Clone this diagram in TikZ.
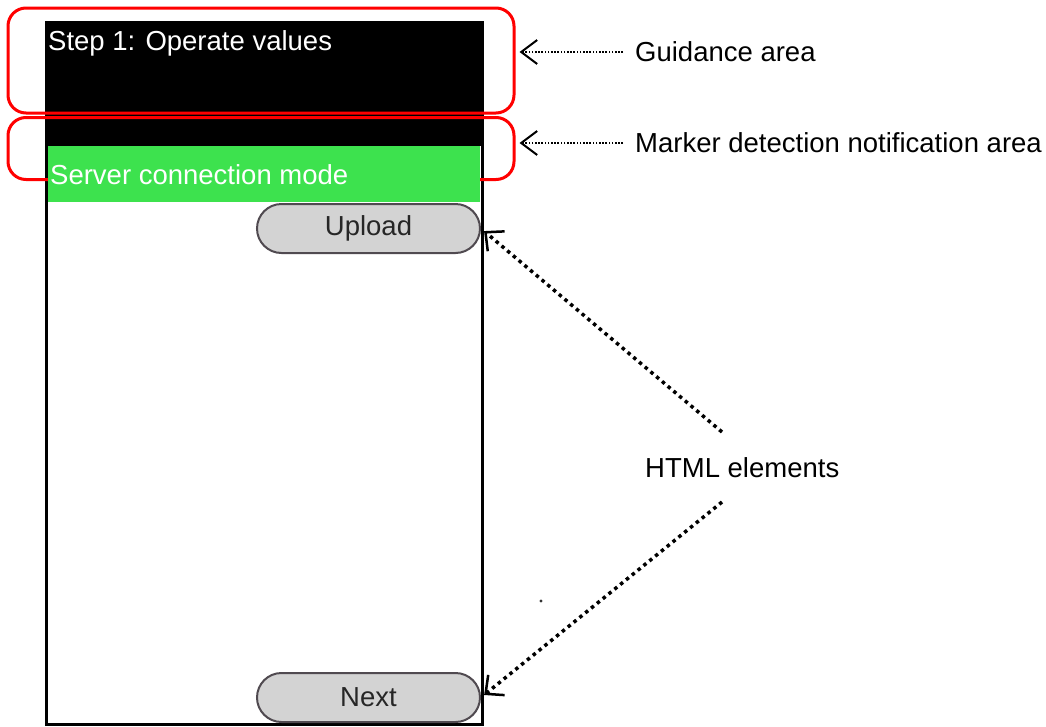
\documentclass[tikz,border=0pt]{standalone}
\usepackage{fontspec}
\setmainfont{Liberation Sans}
\usetikzlibrary{arrows.meta}
\definecolor{scrgreen}{RGB}{61,226,78}
\definecolor{btngray}{RGB}{211,211,211}
\definecolor{btnline}{RGB}{80,74,80}
\tikzset{
  lbl/.style={font=\fontsize{27.5}{33}\selectfont, inner sep=0pt, anchor=west},
  redbox/.style={draw=red, line width=3pt, rounded corners=18pt, inner sep=0pt},
  pill/.style={draw=btnline, fill=btngray, line width=2pt, rounded rectangle,
    minimum width=223pt, minimum height=49pt, inner sep=0pt,
    font=\fontsize{27.5}{33}\selectfont, text=black!85},
  thinarrow/.style={line width=1.6pt, dash pattern=on 1.6pt off 1.6pt,
    -{Straight Barb[length=16pt,width=24pt,line width=2pt]}},
  thickarrow/.style={line width=3.5pt, dash pattern=on 3.5pt off 4pt,
    -{Straight Barb[length=14pt,width=26pt,line width=2.5pt]}},
}
\usetikzlibrary{shapes.misc}
\begin{document}
\begin{tikzpicture}[x=1pt,y=-1pt]
\useasboundingbox (0,0) rectangle (1046,726);
\fill[white] (0,0) rectangle (1046,726);
% phone frame
\node[draw=black, line width=3pt, fill=white, inner sep=0pt, minimum width=436pt, minimum height=702pt] (frame) at (264,373) {};
\fill[black] (46,22) rectangle (482,146);
% red areas
\node[redbox, minimum width=506pt, minimum height=105pt] (guide) at (261,60.5) {};
\node[redbox, minimum width=506pt, minimum height=62pt] (marker) at (261,148.5) {};
% green bar
\fill[scrgreen] (48,146) rectangle (480,202);
\node[lbl, text=white] (step) at (48,43) {Step 1: Operate values};
\node[lbl, text=white] (server) at (50,175) {Server connection mode};
% buttons
\node[pill] (upload) at (368.5,228.5) {Upload};
\node[pill] (next) at (368.5,697.5) {Next};
% labels
\node[lbl] (gtxt) at (635,52) {Guidance area};
\node[lbl] (mtxt) at (635,143) {Marker detection notification area};
\node[lbl] (html) at (645,468) {HTML elements};
\coordinate (hs1) at (722,432);
\coordinate (hs2) at (722,502);
% connectors
\draw[thinarrow, shorten <=12pt, shorten >=4pt] (gtxt.west) -- (guide.east |- gtxt.west);
\draw[thinarrow, shorten <=12pt, shorten >=4pt] (mtxt.west) -- (marker.east |- mtxt.west);
\draw[thickarrow, shorten >=4pt] (hs1) -- (upload.east);
\draw[thickarrow, shorten >=4pt] (hs2) -- (next.east);
% stray dot
\fill[black!80] (541,601) circle (1.6pt);
\end{tikzpicture}
\end{document}
